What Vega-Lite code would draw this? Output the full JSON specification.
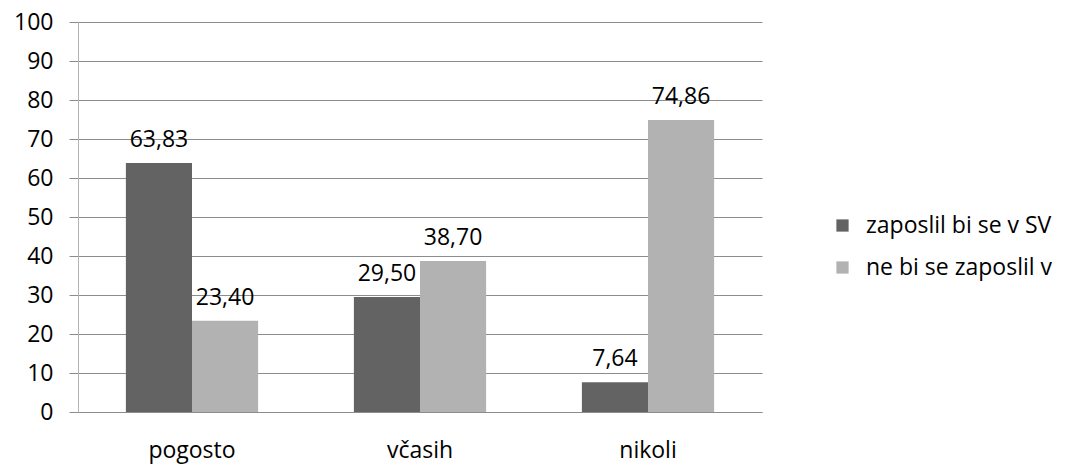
{
  "$schema": "https://vega.github.io/schema/vega-lite/v6.json",
  "autosize": "none",
  "width": 684,
  "height": 390,
  "padding": {"left": 78, "top": 22, "right": 324, "bottom": 54},
  "background": "white",
  "config": {
    "font": "Open Sans",
    "view": {"stroke": null},
    "locale": {"number": {"decimal": ",", "thousands": ".", "grouping": [3], "currency": ["", " €"]}}
  },
  "data": {"values": [
    {"kat": "pogosto", "skupina": "zaposlil bi se v SV", "vrednost": 63.83},
    {"kat": "pogosto", "skupina": "ne bi se zaposlil v", "vrednost": 23.40},
    {"kat": "včasih", "skupina": "zaposlil bi se v SV", "vrednost": 29.50},
    {"kat": "včasih", "skupina": "ne bi se zaposlil v", "vrednost": 38.70},
    {"kat": "nikoli", "skupina": "zaposlil bi se v SV", "vrednost": 7.64},
    {"kat": "nikoli", "skupina": "ne bi se zaposlil v", "vrednost": 74.86}
  ]},
  "encoding": {
    "x": {"field": "kat", "type": "nominal", "sort": ["pogosto", "včasih", "nikoli"],
      "scale": {"paddingInner": 0.42, "paddingOuter": 0.21},
      "axis": {"title": null, "labelAngle": 0, "labelFontSize": 23, "labelColor": "#000", "labelPadding": 27, "ticks": false, "domainColor": "#8c8c8c", "domainWidth": 1}},
    "xOffset": {"field": "skupina", "type": "nominal", "sort": ["zaposlil bi se v SV", "ne bi se zaposlil v"], "scale": {"paddingInner": 0, "paddingOuter": 0}},
    "y": {"field": "vrednost", "type": "quantitative", "scale": {"domain": [0, 100], "nice": false},
      "axis": {"title": null, "values": [0,10,20,30,40,50,60,70,80,90,100], "labelFontSize": 23, "labelColor": "#000", "labelPadding": 16, "tickSize": 9, "tickColor": "#8c8c8c", "domainColor": "#b3b3b3", "gridColor": "#8c8c8c", "grid": true, "labelFlush": false}}
  },
  "layer": [
    {"mark": {"type": "bar"},
     "encoding": {"color": {"field": "skupina", "type": "nominal", "sort": ["zaposlil bi se v SV", "ne bi se zaposlil v"],
       "scale": {"range": ["#636363", "#b2b2b2"]},
       "legend": {"title": null, "orient": "none", "legendX": 753, "legendY": 192, "labelFontSize": 23, "labelColor": "#000", "symbolType": "square", "symbolSize": 150, "symbolStrokeWidth": 0, "rowPadding": 18, "labelOffset": 12, "labelLimit": 400}}}},
    {"mark": {"type": "text", "baseline": "bottom", "dy": -11, "fontSize": 23, "color": "#000"},
     "encoding": {"text": {"field": "vrednost", "type": "quantitative", "format": ".2f"}}}
  ]
}
